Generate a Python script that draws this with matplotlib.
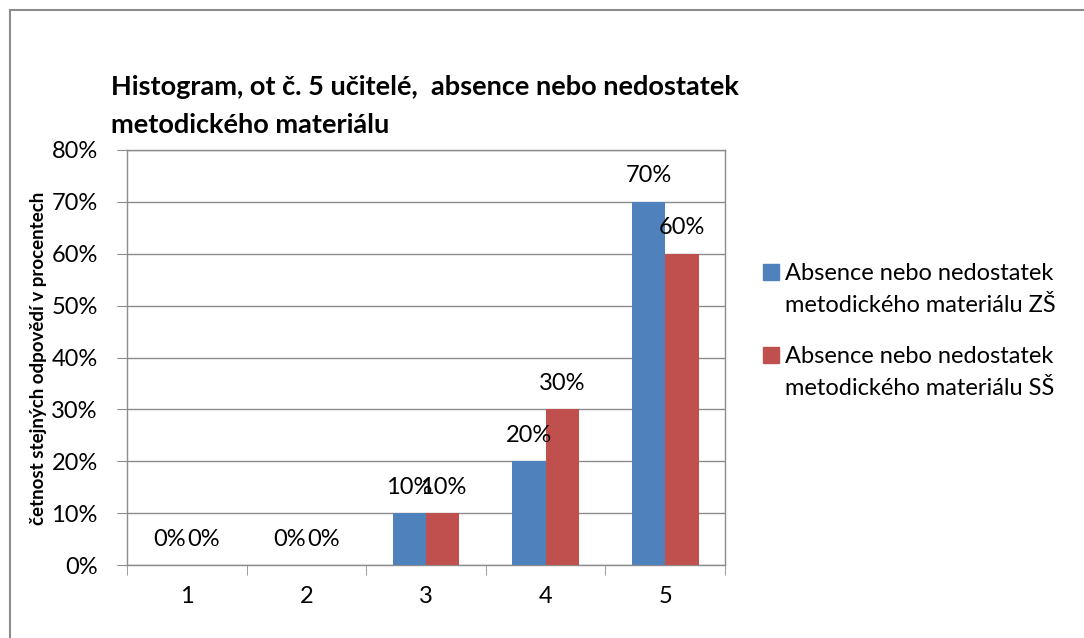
import matplotlib
matplotlib.use('Agg')
import matplotlib.pyplot as plt
import numpy as np
from matplotlib.patches import Rectangle

categories = ['1', '2', '3', '4', '5']
zs_values = [0, 0, 10, 20, 70]
ss_values = [0, 0, 10, 30, 60]
series_names = [['Absence nebo nedostatek', 'metodického materiálu ZŠ'],
                ['Absence nebo nedostatek', 'metodického materiálu SŠ']]
title_lines = ['Histogram, ot č. 5 učitelé,  absence nebo nedostatek', 'metodického materiálu']
y_ticks = [0, 10, 20, 30, 40, 50, 60, 70, 80]

plt.rcParams['font.family'] = ['Lato', 'DejaVu Sans']

W, H = 1084, 638
fig = plt.figure(figsize=(W / 100, H / 100), dpi=100)
ax = fig.add_axes([127 / W, 1 - 565 / H, (725 - 127) / W, (565 - 150) / H])


def fx(px):
    return px / W


def fy(py):
    return 1 - py / H


# outer chart frame (cut at right and bottom in the reference)
fig.patches.append(Rectangle((fx(10), -0.1), 1.2, fy(10) + 0.1,
                             transform=fig.transFigure, fill=False,
                             edgecolor='#8c8c8c', linewidth=1.5))

x = np.arange(1, len(categories) + 1)
w = 0.28
blue = '#4F81BD'
red = '#C0504D'
b1 = ax.bar(x - w / 2, zs_values, w, color=blue, zorder=3)
b2 = ax.bar(x + w / 2, ss_values, w, color=red, zorder=3)

for bars, vals in ((b1, zs_values), (b2, ss_values)):
    for rect, v in zip(bars, vals):
        ax.annotate(f'{v}%', (rect.get_x() + rect.get_width() / 2, v),
                    xytext=(0, 26), textcoords='offset pixels',
                    ha='center', va='center', fontsize=17, color='black', zorder=4)

ax.set_xlim(0.5, 5.5)
ax.set_ylim(0, 80)
ax.set_yticks(y_ticks)
ax.set_yticklabels([f'{t}%' for t in y_ticks])
ax.set_xticks(x)
ax.set_xticklabels(categories)
ax.set_xticks(np.arange(0.5, 6, 1), minor=True)
ax.tick_params(axis='x', which='major', length=0, pad=15, labelsize=17)
ax.tick_params(axis='x', which='minor', length=7, color='#8c8c8c', direction='out')
ax.tick_params(axis='y', length=7, color='#8c8c8c', direction='out', labelsize=17, pad=14)
ax.grid(axis='y', color='#8c8c8c', linewidth=1, zorder=0)
for s in ax.spines.values():
    s.set_color('#8c8c8c')
    s.set_linewidth(1)

fig.text(fx(39), fy(358), 'četnost stejných odpovědí v procentech', rotation=90,
         fontsize=13.5, fontweight='bold', ha='center', va='center')

fig.text(fx(111), fy(95), title_lines[0], fontsize=19.5, fontweight='bold', ha='left', va='baseline')
fig.text(fx(111), fy(133), title_lines[1], fontsize=19.5, fontweight='bold', ha='left', va='baseline')

# legend, square aligned with the first text line as in the reference
for i, (name, col) in enumerate(zip(series_names, [blue, red])):
    base = 280 + i * 83
    fig.patches.append(Rectangle((fx(763), fy(base)), fx(16), 16 / H,
                                 transform=fig.transFigure, color=col))
    fig.text(fx(785), fy(base), name[0], fontsize=17, ha='left', va='baseline')
    fig.text(fx(785), fy(base + 32), name[1], fontsize=17, ha='left', va='baseline')

fig.savefig('out.png', dpi=100)
